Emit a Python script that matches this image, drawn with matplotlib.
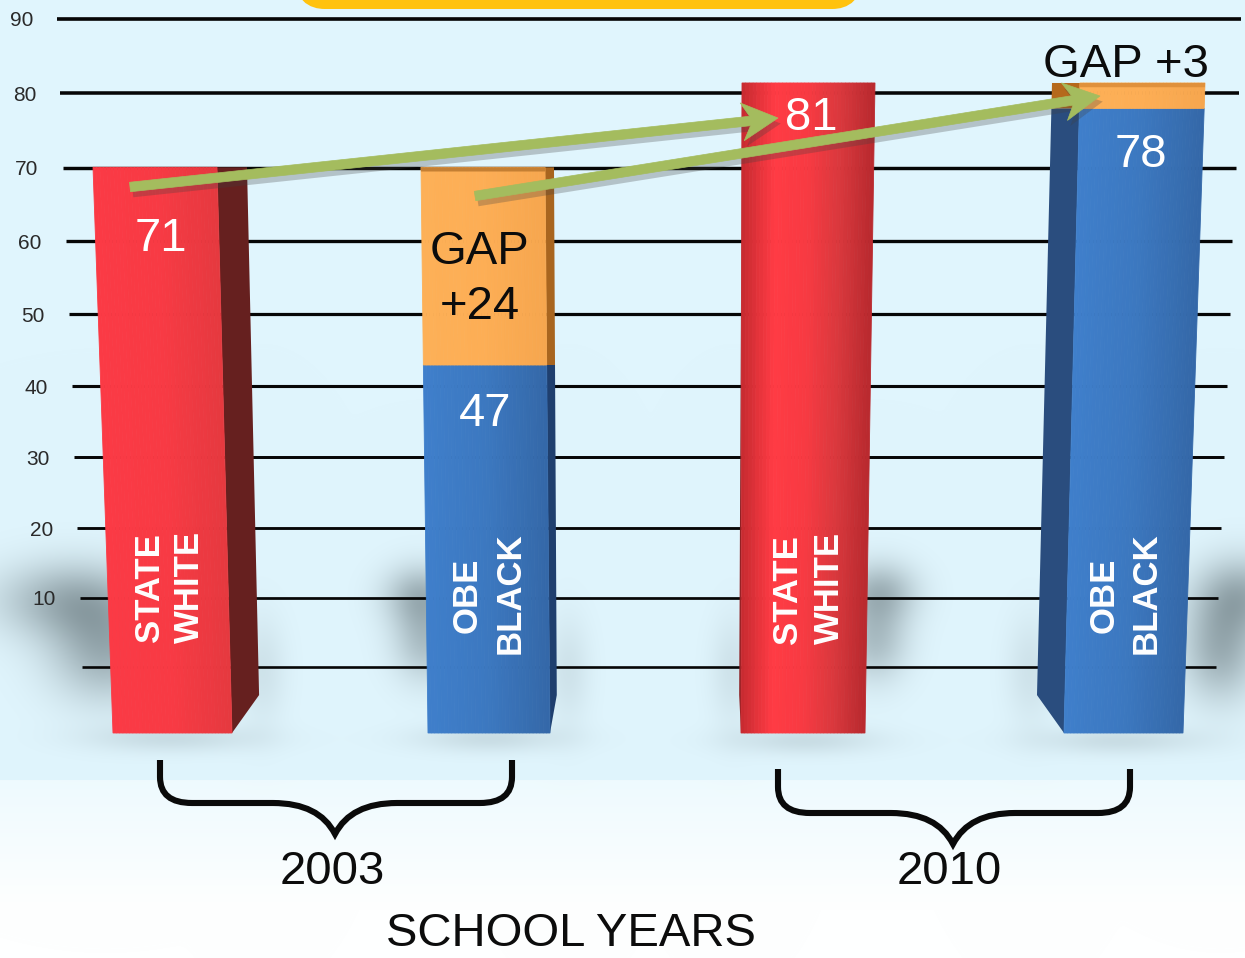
#!/usr/bin/env python
import numpy as np
import matplotlib
matplotlib.use('Agg')
import matplotlib.pyplot as plt
from matplotlib.colors import LinearSegmentedColormap
from matplotlib.patches import FancyArrow, FancyBboxPatch, PathPatch
from matplotlib.path import Path
import matplotlib.patheffects as pe

plt.rcParams['font.family'] = ['Liberation Sans', 'DejaVu Sans']

# chart values
school_years = ['2003', '2010']
state_white = [71, 81]
obe_black = [47, 78]
gaps = [24, 3]
grid_values = [0, 10, 20, 30, 40, 50, 60, 70, 80, 90]
tick_labels = ['', '10', '20', '30', '40', '50', '60', '70', '80', '90']
axis_title = 'SCHOOL YEARS'

W, H = 1245, 958

def make_scale(a, b):
	# the picture is in perspective, equal steps are not equal in pixels
	def forward(v):
		v = np.asarray(v, dtype=float)
		return a*v + b*v*v
	def inverse(y):
		y = np.asarray(y, dtype=float)
		return (-a + np.sqrt(np.maximum(a*a + 4*b*y, 0.))) / (2*b)
	return forward, inverse

def overlay_axes(fig, zorder):
	ax = fig.add_axes([0, 0, 1, 1], zorder=zorder)
	ax.set_xlim(0, W)
	ax.patch.set_visible(False)
	ax.axis('off')
	return ax

def draw_background(ax):
	yy, xx = np.mgrid[0:H, 0:W]
	top = np.array([224, 245, 253.])/255.
	low0 = np.array([238, 250, 254.])/255.
	low1 = np.array([254, 255, 255.])/255.
	t = np.clip((yy - 780)/130., 0, 1)[..., None]
	img = np.where(yy[..., None] < 780, top, low0*(1-t) + low1*t)
	#soft shadows behind the bars, added up so they melt together
	blobs = [(70, 600, 72, 38, .45), (105, 650, 55, 50, .45),
		(420, 595, 36, 30, .40), (425, 640, 32, 40, .35),
		(880, 592, 36, 30, .40), (875, 640, 32, 40, .35),
		(1240, 595, 45, 38, .45), (1220, 650, 38, 50, .45),
		(175, 738, 85, 14, .16), (490, 738, 75, 14, .16),
		(805, 740, 75, 14, .16), (1120, 740, 85, 14, .16),
		(262, 670, 24, 55, .12), (568, 670, 22, 55, .12),
		(732, 670, 22, 55, .12), (1030, 670, 24, 55, .12)]
	s = np.zeros((H, W))
	for cx, cy, sx, sy, amp in blobs:
		s = s + amp*np.exp(-((xx-cx)/sx)**2 - ((yy-cy)/sy)**2)
	s = np.clip(s, 0, .66)[..., None]
	shade = np.array([80, 95, 100.])/255.
	ax.imshow(img*(1-s) + shade*s, extent=(0, W, H, 0), aspect='auto', interpolation='bilinear')

def gradient_face(ax, xl0, xl1, xr0, xr1, v0, v1, stops, n=36):
	cmap = LinearSegmentedColormap.from_list('face', stops)
	for i in range(n):
		f0, f1 = i/float(n), (i+1.)/n
		xs = [xl0+(xr0-xl0)*f0, xl0+(xr0-xl0)*f1, xl1+(xr1-xl1)*f1, xl1+(xr1-xl1)*f0]
		c = cmap((f0+f1)/2.)
		ax.fill(xs, [v0, v0, v1, v1], color=c, lw=0.6, zorder=3)

def draw_bar(ax, geo, v_low, v_high, v_top, stops, side_color, rise=5., lip=None):
	# geo holds x pixel positions at the bar foot and at its top
	def at(pair, v):
		return pair[0] + (pair[1]-pair[0])*v/float(v_top)
	fl, fr, sd = geo['front_l'], geo['front_r'], geo['side']
	inner = fr if geo['side_right'] else fl
	#side face first, it has a chamfer at the foot
	if v_low == 0:
		xs = [at(inner, 0), at(sd, rise), at(sd, v_high), at(inner, v_high)]
		vs = [0, rise, v_high, v_high]
	else:
		xs = [at(inner, v_low), at(sd, v_low), at(sd, v_high), at(inner, v_high)]
		vs = [v_low, v_low, v_high, v_high]
	ax.fill(xs, vs, color=side_color, lw=0, zorder=2.9)
	gradient_face(ax, at(fl, v_low), at(fl, v_high), at(fr, v_low), at(fr, v_high), v_low, v_high, stops)
	if lip is not None:
		v = v_high - 0.5
		ax.fill([at(fl, v), at(fr, v), at(fr, v_high), at(fl, v_high)], [v, v, v_high, v_high],
			color=lip, lw=0, zorder=3.1)

def draw_brace(ax, xl, xr, xm, y0, y1, y2):
	verts = [(xl, y0), (xl, y1-26), (xl, y1), (xl+32, y1), (xm-62, y1), (xm-16, y1), (xm, y2),
		(xm+16, y1), (xm+62, y1), (xr-32, y1), (xr, y1), (xr, y1-26), (xr, y0)]
	codes = [Path.MOVETO, Path.LINETO, Path.CURVE3, Path.CURVE3, Path.LINETO, Path.CURVE3, Path.CURVE3,
		Path.CURVE3, Path.CURVE3, Path.LINETO, Path.CURVE3, Path.CURVE3, Path.LINETO]
	ax.add_patch(PathPatch(Path(verts, codes), fc='none', ec='#0a0a0a', lw=4.4, capstyle='butt', joinstyle='miter'))

def plot_gap_chart():
	#set-up
	fig = plt.figure(figsize=(W/100., H/100.), dpi=100)

	bg = overlay_axes(fig, 1)
	bg.axis('on')
	draw_background(bg)
	bg.set_xlim(0, W)
	bg.set_ylim(H, 0)
	bg.set_xticks([])
	bg.set_yticks([])
	for sp in bg.spines.values():
		sp.set_visible(False)

	#gridlines, tick scale: 0 sits at pixel 667
	grid = overlay_axes(fig, 2)
	forward, inverse = make_scale(6.88, 0.00361)
	grid.set_yscale('function', functions=(forward, inverse))
	grid.set_ylim(float(inverse(667.-H)), float(inverse(667.)))
	left = [82, 80, 77, 74, 71.5, 69, 65.6, 62.5, 60, 57]
	right = [1216, 1218, 1221, 1224, 1227, 1229.6, 1232, 1235.5, 1239, 1241]
	for v, xl, xr, lab in zip(grid_values, left, right, tick_labels):
		grid.plot([xl, xr], [v, v], color='#060606', lw=1.9+0.008*v, solid_capstyle='butt')
		grid.text(xl-24, v-0.3, lab, ha='right', va='center', fontsize=15, color='#2a2a2a')

	#bars, foot at pixel 733
	bars = overlay_axes(fig, 3)
	forward2, inverse2 = make_scale(7.56, 0.00574)
	bars.set_yscale('function', functions=(forward2, inverse2))
	bars.set_ylim(float(inverse2(733.-H)), float(inverse2(733.)))

	red = ['#fb3a45', '#f83a44', '#e6393f']
	red2 = ['#c62a30', '#ff3b44', '#f83a42', '#d9383d', '#b8292e']
	blue = ['#3f7fcb', '#3c78c0', '#3468a8']
	orange = ['#fdb057', '#fdae55', '#f6a64e']

	geo1 = {'front_l': (113, 93), 'front_r': (232, 217), 'side': (260, 247), 'side_right': True}
	geo2 = {'front_l': (428, 421), 'front_r': (550, 545), 'side': (557, 554), 'side_right': True}
	geo3 = {'front_l': (741, 742), 'front_r': (865, 875), 'side': (739, 742), 'side_right': False}
	geo4 = {'front_l': (1064, 1080), 'front_r': (1183, 1205), 'side': (1036, 1052), 'side_right': False}

	draw_bar(bars, geo1, 0, state_white[0], state_white[0], red, '#66201f')
	draw_bar(bars, geo2, 0, obe_black[0], state_white[0], blue, '#1f3f6e')
	draw_bar(bars, geo2, obe_black[0], obe_black[0]+gaps[0], state_white[0], orange, '#a8651f', lip='#c47f33')
	draw_bar(bars, geo3, 0, state_white[1], state_white[1], red2, '#8c1f22')
	draw_bar(bars, geo4, 0, obe_black[1], state_white[1], blue, '#2a4d7e')
	draw_bar(bars, geo4, obe_black[1], obe_black[1]+gaps[1], state_white[1], orange, '#b5691c', lip='#e0913c')

	#everything else is placed in picture pixels
	top = overlay_axes(fig, 4)
	top.set_ylim(H, 0)
	top.add_patch(FancyBboxPatch((310, -30), 537, 24, boxstyle='round,pad=0,rounding_size=15',
		mutation_aspect=1, fc='#ffc20e', ec='#ffc20e', lw=30*0.72))

	shadow = [pe.SimplePatchShadow(offset=(2, -4), shadow_rgbFace='#404040', alpha=.28), pe.Normal()]
	for x0, y0, x1, y1 in [(130, 187, 778, 118), (475, 196, 1100, 96)]:
		arrow = FancyArrow(x0, y0, x1-x0, y1-y0, width=9.5, head_width=38, head_length=36,
			length_includes_head=True, overhang=.22, fc='#a4bc5e', ec='#a4bc5e', lw=0.5)
		arrow.set_path_effects(shadow)
		top.add_patch(arrow)

	draw_brace(top, 160, 512, 335, 760, 803, 834)
	draw_brace(top, 778, 1130, 953, 769, 813, 844)

	big = 34
	dark = '#0c0c0c'
	top.text(161, 239, str(state_white[0]), color='white', fontsize=big, ha='center', va='center')
	top.text(485, 414, str(obe_black[0]), color='white', fontsize=big, ha='center', va='center')
	top.text(811, 118, str(state_white[1]), color='white', fontsize=big, ha='center', va='center')
	top.text(1141, 155, str(obe_black[1]), color='white', fontsize=big, ha='center', va='center')
	top.text(480, 252, 'GAP', color=dark, fontsize=big, ha='center', va='center')
	top.text(480, 307, '+%d' % gaps[0], color=dark, fontsize=big, ha='center', va='center')
	top.text(1126, 65, 'GAP +%d' % gaps[1], color=dark, fontsize=big, ha='center', va='center')
	top.text(332, 872, school_years[0], color=dark, fontsize=big, ha='center', va='center')
	top.text(949, 872, school_years[1], color=dark, fontsize=big, ha='center', va='center')
	top.text(571, 934, axis_title, color=dark, fontsize=34, ha='center', va='center')

	for x, y, lab in [(149, 588, 'STATE'), (189, 587, 'WHITE'), (467, 595, 'OBE'), (510, 593, 'BLACK'),
			(788, 590, 'STATE'), (829, 588, 'WHITE'), (1104, 595, 'OBE'), (1146, 593, 'BLACK')]:
		top.text(x, y, lab, color='white', fontsize=25, fontweight='bold', rotation=90, ha='center', va='center')

	plt.savefig('out.png', dpi=100)

if __name__ == "__main__":
	plot_gap_chart()
